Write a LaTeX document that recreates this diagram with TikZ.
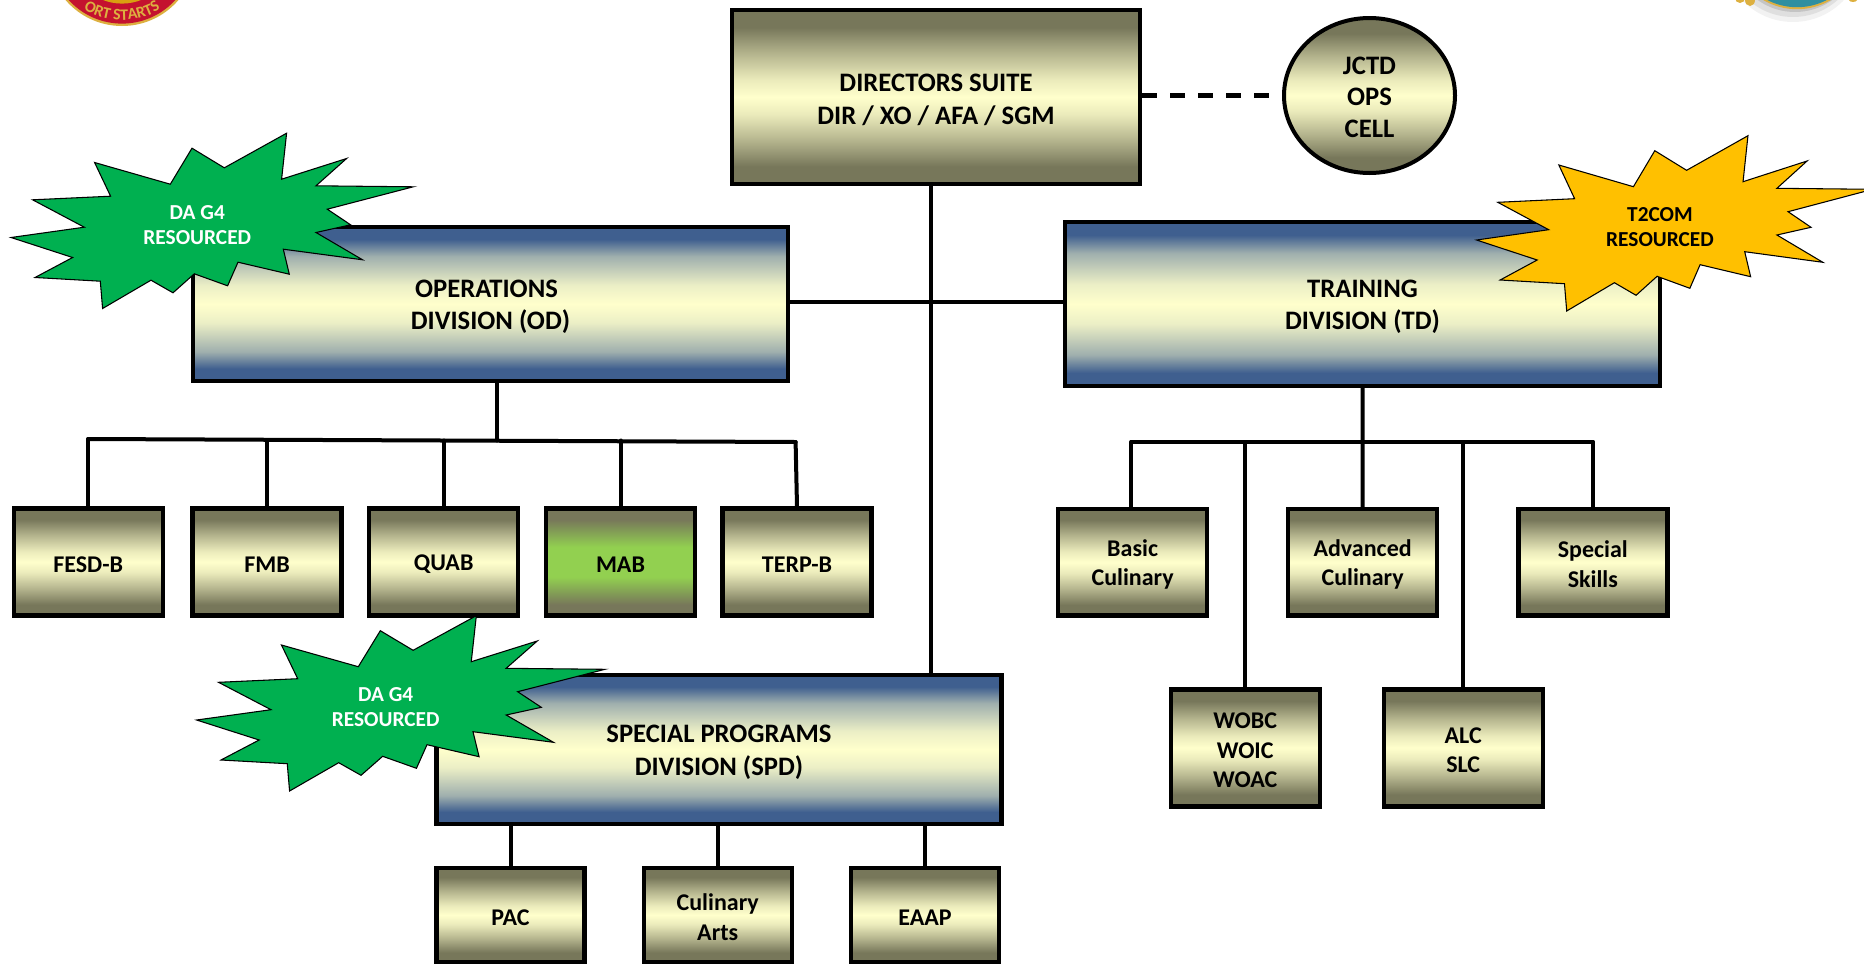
\documentclass[tikz,border=0pt]{standalone}
\usepackage{fontspec}
\setmainfont{Carlito}
\usepackage{xcolor}
\usetikzlibrary{shapes.geometric}
\usetikzlibrary{decorations.text}
\definecolor{BarOlive}{HTML}{77775A}
\definecolor{BarPale}{HTML}{FFFFCC}
\definecolor{BarBlue}{HTML}{3F5F8F}
\definecolor{BarGreen}{HTML}{92D050}
\definecolor{BurstGreen}{HTML}{00B050}
\definecolor{BurstGold}{HTML}{FFC000}
\definecolor{CrestRed}{HTML}{C4122F}
\definecolor{CrestGold}{HTML}{DDB040}
\definecolor{CrestCore}{HTML}{D9A010}
\definecolor{CrestTeal}{HTML}{2F8FA0}
\colorlet{OliveHalf}{BarPale!45!BarOlive}
\colorlet{OliveNear}{BarPale!85!BarOlive}
\colorlet{BlueHalf}{BarPale!50!BarBlue}
\colorlet{BlueNear}{BarPale!90!BarBlue}
\pgfdeclareverticalshading{olivebar}{100bp}{color(0bp)=(BarOlive); color(30bp)=(BarOlive);
  color(37.5bp)=(OliveHalf); color(45bp)=(OliveNear); color(50bp)=(BarPale);
  color(55bp)=(OliveNear); color(62.5bp)=(OliveHalf); color(70bp)=(BarOlive); color(100bp)=(BarOlive)}
\pgfdeclareverticalshading{bluebar}{100bp}{color(0bp)=(BarBlue); color(29bp)=(BarBlue);
  color(34.5bp)=(BlueHalf); color(44bp)=(BlueNear); color(50bp)=(BarPale);
  color(56bp)=(BlueNear); color(65.5bp)=(BlueHalf); color(71bp)=(BarBlue); color(100bp)=(BarBlue)}
\pgfdeclareverticalshading{greenbar}{100bp}{color(0bp)=(BarOlive); color(30bp)=(BarOlive);
  color(43bp)=(BarGreen); color(57bp)=(BarGreen); color(70bp)=(BarOlive); color(100bp)=(BarOlive)}
\newcommand{\bigfont}{\fontsize{20}{24.4}\selectfont\bfseries}
\newcommand{\unitfont}{\fontsize{18}{22}\selectfont\bfseries}
\newcommand{\burstfont}{\fontsize{16}{18.7}\selectfont\bfseries}
\newcommand{\lifted}{\rule{0pt}{0.87em}}
\newcommand{\unitw}{111.75pt}
\newcommand{\unith}{80pt}
\newcommand{\lowh}{87.75pt}
\newcommand{\burstoutline}{
  (89.3,-90.3) -- (84.3,-44.3) -- (149.3,-65) -- (118.7,-37.7) -- (216,-36.7)
  -- (130,-14.3) -- (153.3,1.3) -- (118.7,9) -- (165.3,36.3) -- (86,25.7)
  -- (92,50.7) -- (40.7,38.7) -- (30.3,62.3) -- (-3,50.3) -- (-24.3,69.3)
  -- (-46.3,56.7) -- (-94.7,85) -- (-97,57.7) -- (-162.3,54) -- (-124.7,34)
  -- (-186.3,14) -- (-113,3.7) -- (-164.7,-23.7) -- (-86.7,-27.3) -- (-102.7,-61)
  -- (-27,-39.3) -- (-5.3,-75.3) -- (27,-55.7) -- cycle
}
\tikzset{
  bar/.style={draw,line width=3.3pt,inner sep=0pt,align=center,font=\bigfont},
  topbar/.style={bar,shading=olivebar},
  divbar/.style={bar,shading=bluebar},
  unitbar/.style={bar,shading=olivebar,font=\unitfont,minimum width=\unitw,minimum height=\unith},
  link/.style={line width=3pt,line cap=round},
  burstline/.style={draw=black,line width=0.8pt},
  bursttext/.style={align=center,font=\burstfont,inner sep=0pt}
}
\begin{document}
\begin{tikzpicture}[x=0.75pt,y=-0.75pt]
  \useasboundingbox (0,0) rectangle (1864,964);
  % crest left
  \begin{scope}
    \fill[CrestGold] (122,-48.4) circle (74.4);
    \fill[CrestRed] (122,-48.4) circle (72);
    \fill[CrestCore] (122,-48.4) circle (52);
    \path[decorate,decoration={text along path,text align=center,
        text={|\fontsize{12}{14}\selectfont\bfseries\color{CrestGold}|ORT STARTS}}]
      (74,2) .. controls (100,26) and (144,26) .. (170,2);
  \end{scope}
  % crest right
  \begin{scope}
    \fill[black,opacity=0.05] (1793,-48) circle (70);
    \fill[black,opacity=0.08] (1793,-50) circle (67);
    \fill[black,opacity=0.12] (1795,-52) circle (64);
    \fill[CrestGold] (1797,-57.8) circle (67);
    \fill[CrestTeal] (1797,-57.8) circle (65);
    \fill[CrestGold] (1740,-2) ellipse (5 and 5);
    \fill[CrestGold] (1750,0) ellipse (5 and 6);
    \fill[CrestGold] (1853,0) ellipse (4 and 2);
  \end{scope}
  % top
  \node (directors) [topbar,minimum width=306pt,minimum height=130.5pt] at (936,97)
    {\lifted DIRECTORS SUITE\\DIR / XO / AFA / SGM};
  \node (jctd) [topbar,ellipse,minimum width=128.25pt,minimum height=116.25pt,line width=3pt,
    font=\fontsize{20}{23.6}\selectfont\bfseries]
    at (1369.5,95.5) {\rule{0pt}{0.78em}JCTD\\OPS\\CELL};
  % divisions
  \node (od) [divbar,minimum width=446.25pt,minimum height=115.5pt] at (490.5,304)
    {\lifted OPERATIONS\hspace*{6pt}\\DIVISION (OD)};
  \node (td) [divbar,minimum width=446.25pt,minimum height=123pt] at (1362.5,304)
    {\lifted TRAINING\\DIVISION (TD)};
  \node (spd) [divbar,minimum width=423.75pt,minimum height=111.75pt] at (719,749.4)
    {\lifted SPECIAL PROGRAMS\\DIVISION (SPD)};
  % od branches
  \node (fesd) [unitbar] at (88.2,562) {\lifted FESD-B};
  \node (fmb) [unitbar] at (267,562) {\lifted FMB};
  \node (quab) [unitbar] at (443.7,562) {\lifted QUAB};
  \node (mab) [unitbar,shading=greenbar] at (620.5,562) {\lifted MAB};
  \node (terp) [unitbar] at (797,562) {\lifted TERP-B};
  % td branches
  \node (basic) [unitbar] at (1132.6,562.3) {\lifted Basic\\Culinary};
  \node (advanced) [unitbar] at (1362.6,562.3) {\lifted Advanced\\Culinary};
  \node (special) [unitbar] at (1592.8,562.3) {\lifted Special\\Skills};
  \node (wobc) [unitbar,minimum height=\lowh] at (1245.2,747.8) {\lifted WOBC\\WOIC\\WOAC};
  \node (alc) [unitbar,minimum width=119.25pt,minimum height=\lowh] at (1463.2,747.8) {\lifted ALC\\SLC};
  % spd branches
  \node (pac) [unitbar,minimum width=111pt,minimum height=70.5pt] at (510.5,915) {\lifted PAC};
  \node (arts) [unitbar,minimum width=111pt,minimum height=70.5pt] at (717.7,915) {\lifted Culinary\\Arts};
  \node (eaap) [unitbar,minimum width=111pt,minimum height=70.5pt] at (925,915) {\lifted EAAP};
  % connectors
  \coordinate (odleft) at (88.2,439);
  \coordinate (odright) at (795.6,442);
  \coordinate (odjoin) at (497,440.5);
  \coordinate (tdleft) at (1131.3,442);
  \coordinate (tdright) at (1592.8,442);
  \draw[link,dash pattern=on 11.25pt off 9.75pt,line cap=butt,line width=3.5pt] (directors.east |- jctd.west) -- (jctd.west);
  \draw[link] ([xshift=-3.5pt]directors.south) -- ([xshift=-3.5pt]directors.south |- spd.north);
  \draw[link] ([yshift=1.5pt]od.east) -- ([yshift=1.5pt]td.west);
  \draw[link] (od.south -| odjoin) -- (odjoin);
  \draw[link] (odleft) -- (odright);
  \draw[link] (fesd.north) -- (odleft);
  \draw[link] (fmb.north) -- (fmb.north |- odjoin);
  \draw[link] (quab.north) -- (quab.north |- odjoin);
  \draw[link] (mab.north) -- (mab.north |- odjoin);
  \draw[link] (terp.north) -- (odright);
  \draw[link] (td.south) -- (advanced.north);
  \draw[link] (tdleft) -- (tdright);
  \draw[link] (tdleft |- basic.north) -- (tdleft);
  \draw[link] (special.north) -- (tdright);
  \draw[link] (wobc.north) -- (wobc.north |- tdleft);
  \draw[link] (alc.north) -- (alc.north |- tdleft);
  \draw[link] (pac.north) -- (pac.north |- spd.south);
  \draw[link] (arts.north) -- (arts.north |- spd.south);
  \draw[link] (eaap.north) -- (eaap.north |- spd.south);
  % bursts
  \begin{scope}[shift={(197.3,223.5)}]
    \filldraw[burstline,fill=BurstGreen] \burstoutline;
    \node (odburst) [bursttext,text=white] at (0,1.5) {DA G4\\RESOURCED};
  \end{scope}
  \begin{scope}[shift={(1660,226)},xscale=0.985]
    \filldraw[burstline,fill=BurstGold] \burstoutline;
    \node (tdburst) [bursttext,text=black] at (0,1.5) {T2COM\\RESOURCED};
  \end{scope}
  \begin{scope}[shift={(385.7,706)},xscale=1.015]
    \filldraw[burstline,fill=BurstGreen] \burstoutline;
    \node (spdburst) [bursttext,text=white] at (0,1.5) {DA G4\\RESOURCED};
  \end{scope}
\end{tikzpicture}
\end{document}
